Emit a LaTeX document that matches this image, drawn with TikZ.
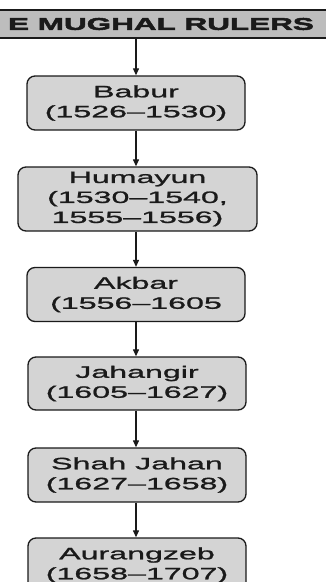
\documentclass[tikz,border=0pt]{standalone}
\usepackage{fontspec}
\newfontfamily\boxfont[FakeStretch=1.95,FakeBold=1.3]{Liberation Sans}
\newfontfamily\titlefont[FakeStretch=1.85,FakeBold=3]{Liberation Sans}
\usetikzlibrary{arrows.meta}
\definecolor{boxfill}{HTML}{D4D4D4}
\definecolor{bandfill}{HTML}{BDBDBD}
\definecolor{inkc}{HTML}{1A1A1A}
\tikzset{
  ruler/.style={draw=inkc, line width=1.3pt, fill=boxfill, rounded corners=8pt,
    minimum width=218pt, minimum height=54pt, inner sep=0pt, align=center,
    font=\boxfont\fontsize{16.5}{20}\selectfont, text=inkc},
  band/.style={draw=inkc, line width=1.1pt, fill=bandfill, minimum width=340pt,
    minimum height=28pt, inner sep=0pt,
    font=\titlefont\bfseries\fontsize{17}{20}\selectfont, text=inkc},
  arr/.style={draw=inkc, line width=1.1pt, -{Triangle[length=7pt,width=6pt]}}
}
\begin{document}
\begin{tikzpicture}[x=1pt,y=-1pt]
\useasboundingbox (0,0) rectangle (326,582);
\clip (0,0) rectangle (326,582);
\node[band] (banner) at (161,24) {E MUGHAL RULERS};
\node[ruler] (babur) at (136,103) {Babur\\(1526–1530)};
\node[ruler, minimum width=239pt, minimum height=64pt] (humayun) at (137.5,199) {Humayun\\(1530–1540,\\1555–1556)};
\node[ruler] (akbar) at (136,294.5) {Akbar\\(1556–1605};
\node[ruler, minimum height=53pt] (jahangir) at (137,383.5) {Jahangir\\(1605–1627)};
\node[ruler] (shahjahan) at (137,475) {Shah Jahan\\(1627–1658)};
\node[ruler] (aurangzeb) at (137,565) {Aurangzeb\\(1658–1707)};
\draw[arr] (babur.north |- banner.south) -- (babur.north);
\draw[arr] (babur.south) -- (babur.south |- humayun.north);
\draw[arr] (babur.south |- humayun.south) -- (babur.south |- akbar.north);
\draw[arr] (akbar.south) -- (akbar.south |- jahangir.north);
\draw[arr] (akbar.south |- jahangir.south) -- (akbar.south |- shahjahan.north);
\draw[arr] (akbar.south |- shahjahan.south) -- (akbar.south |- aurangzeb.north);
\end{tikzpicture}
\end{document}
